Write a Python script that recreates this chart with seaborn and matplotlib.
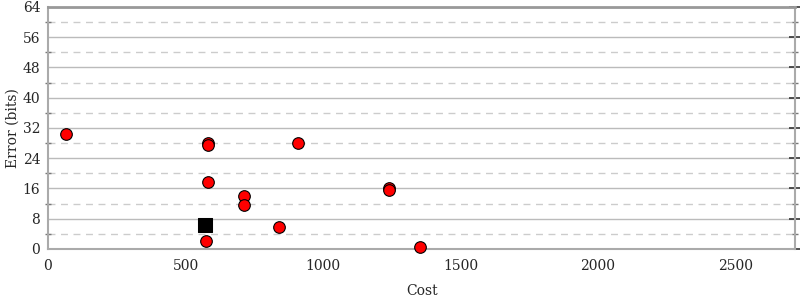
import matplotlib
matplotlib.use("Agg")
import matplotlib.pyplot as plt
import seaborn as sns
import pandas as pd
from matplotlib.ticker import MultipleLocator

# Data
cost = [65, 583, 583, 909, 580, 714, 714, 1239, 1239, 841, 576, 1351]
error = [30.4, 28.0, 27.4, 28.1, 17.6, 14.0, 11.7, 16.2, 15.6, 5.7, 2.2, 0.6]
init_cost = [572]
init_error = [6.3]

sns.set_theme(style="white")
plt.rcParams['font.family'] = ['DejaVu Serif']

df = pd.DataFrame({"Cost": cost, "Error (bits)": error})
df0 = pd.DataFrame({"Cost": init_cost, "Error (bits)": init_error})

fig = plt.figure(figsize=(8, 3), dpi=100)
ax = fig.add_axes([0.06, 0.17, 0.934, 0.807])

ax.set_xlim(0, 2717)
ax.set_ylim(0, 64)

ax.yaxis.set_major_locator(MultipleLocator(8))
ax.yaxis.set_minor_locator(MultipleLocator(4))
ax.xaxis.set_major_locator(MultipleLocator(500))
ax.xaxis.set_minor_locator(MultipleLocator(250))

ax.grid(which="major", axis="y", color="#bbbbbb", linewidth=1.0, linestyle="-")
ax.grid(which="minor", axis="y", color="#cccccc", linewidth=1.0, linestyle=(0, (5, 4)))
ax.grid(which="major", axis="x", visible=False)
ax.set_axisbelow(True)

sns.scatterplot(data=df, x="Cost", y="Error (bits)", ax=ax, color="#ff0000",
                edgecolor="black", linewidth=0.8, s=70, zorder=3, clip_on=False)
sns.scatterplot(data=df0, x="Cost", y="Error (bits)", ax=ax, color="black",
                marker="s", edgecolor="black", s=90, zorder=4, clip_on=False)

for side in ["left", "right", "bottom", "top"]:
    ax.spines[side].set_color("#aaaaaa")
    ax.spines[side].set_linewidth(1.5)
ax.spines["top"].set_color("#999999")
ax.spines["top"].set_linewidth(2)

ax.tick_params(axis="y", which="major", direction="inout", length=9, width=1.2,
               color="#333333", labelsize=10, pad=1, right=True)
ax.tick_params(axis="y", which="minor", direction="inout", length=5, width=1,
               color="#777777", right=True, left=True)
ax.tick_params(axis="x", which="major", direction="inout", length=10, width=1,
               color="#555555", labelsize=10, pad=2)
ax.tick_params(axis="x", which="minor", direction="inout", length=6, width=0.8,
               color="#777777")

ax.set_xlabel("Cost", fontsize=10, labelpad=8)
ax.set_ylabel("Error (bits)", fontsize=10, labelpad=2)

fig.savefig("out.png", dpi=100)
